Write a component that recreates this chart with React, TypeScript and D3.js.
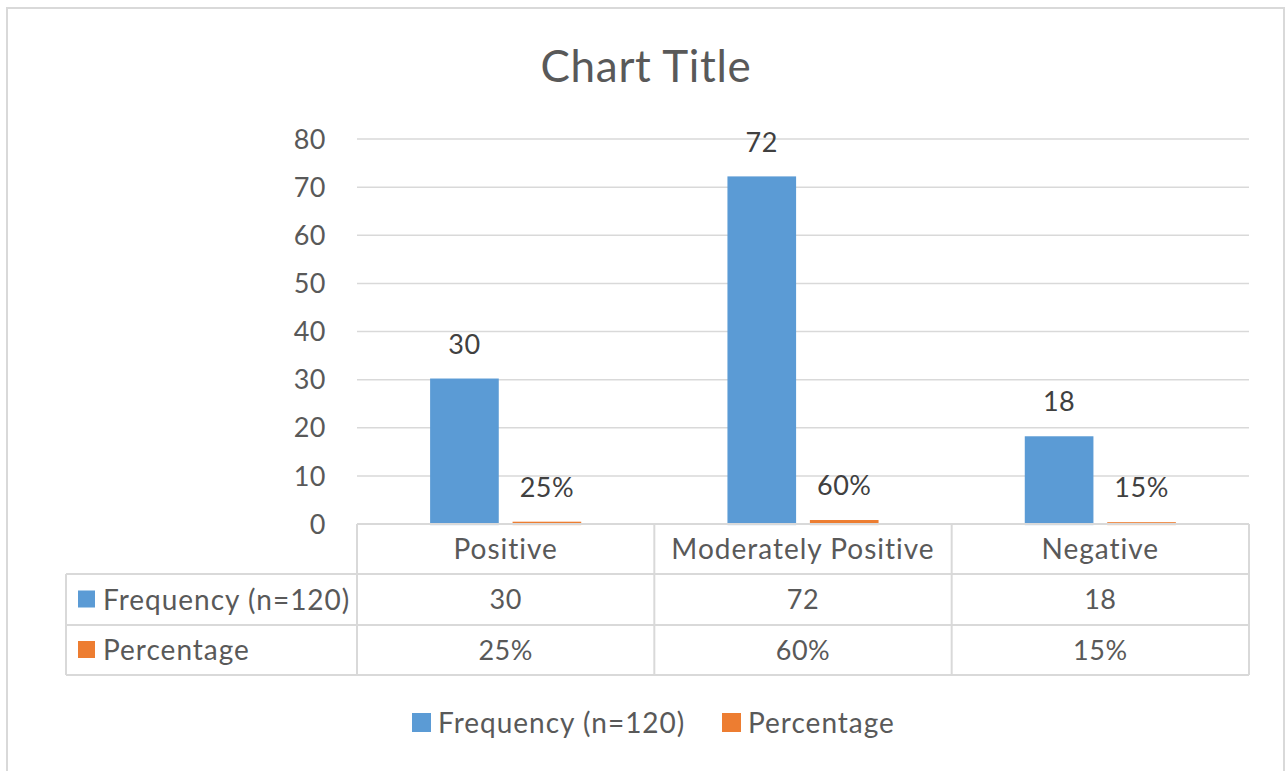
import React from "react";
import * as d3 from "d3";

const categories = ["Positive", "Moderately Positive", "Negative"];
const frequency = [30, 72, 18];
const percentage = [0.25, 0.6, 0.15];
const seriesNames = ["Frequency (n=120)", "Percentage"];
const yTicks = [0, 10, 20, 30, 40, 50, 60, 70, 80];
const colors = ["#5B9BD5", "#ED7D31"];

const W = 1285;
const H = 771;
const FONT = "Lato, 'Open Sans', sans-serif";
const LS = 1.0;

export default function App() {
  const plotLeft = 357;
  const plotRight = 1249;
  const y = d3.scaleLinear().domain([0, 80]).range([524, 139]);
  const x = d3.scaleBand<string>().domain(categories).range([plotLeft, plotRight]).paddingInner(0).paddingOuter(0);
  const xs = d3
    .scaleBand<string>()
    .domain(seriesNames)
    .range([0, x.bandwidth()])
    .paddingInner(0.194)
    .paddingOuter(0.9);

  const seriesData = [frequency, percentage];
  const fmt = [(v: number) => String(v), d3.format(".0%")];

  const tableLeft = 66;
  const rowY = [524, 574, 625, 675];
  const grid = "#D9D9D9";
  const textCol = "#595959";

  return (
    <svg
      width={W}
      height={H}
      style={{ position: "absolute", left: 0, top: 0, background: "#fff" }}
      fontFamily={FONT}
    >
      <rect x={0} y={0} width={W} height={H} fill="#fff" />
      <rect x={7} y={8} width={1277} height={800} fill="#fff" stroke={grid} strokeWidth={2} />

      <text x={646} y={82} textAnchor="middle" fontSize={44} letterSpacing={0.7} fill={textCol}>
        Chart Title
      </text>

      {/* gridlines */}
      {yTicks.map((t) => (
        <g key={t}>
          <line x1={plotLeft} x2={plotRight} y1={y(t)} y2={y(t)} stroke={grid} strokeWidth={1.5} />
          <text x={326} y={y(t)} dy="0.36em" textAnchor="end" fontSize={27} letterSpacing={0.5} fill={textCol}>
            {t}
          </text>
        </g>
      ))}

      {/* bars */}
      {seriesData.map((vals, si) =>
        vals.map((v, ci) => {
          const bx = (x(categories[ci]) ?? 0) + (xs(seriesNames[si]) ?? 0);
          const by = y(v);
          const h = y(0) - by;
          return (
            <g key={`${si}-${ci}`}>
              <rect
                x={bx}
                y={by}
                width={xs.bandwidth()}
                height={h}
                fill={colors[si]}
                stroke={colors[si]}
                strokeWidth={2.2}
              />
              <text
                x={bx + xs.bandwidth() / 2}
                y={by - 26}
                textAnchor="middle"
                fontSize={27}
                letterSpacing={0.5}
                fill="#404040"
              >
                {fmt[si](v)}
              </text>
            </g>
          );
        })
      )}

      {/* data table */}
      <g stroke={grid} strokeWidth={2} fill="none">
        <line x1={plotLeft} x2={plotRight} y1={rowY[0]} y2={rowY[0]} />
        {rowY.slice(1).map((ry) => (
          <line key={ry} x1={tableLeft} x2={plotRight} y1={ry} y2={ry} />
        ))}
        <line x1={tableLeft} x2={tableLeft} y1={rowY[1]} y2={rowY[3]} />
        {categories.map((c) => (
          <line key={c} x1={x(c)} x2={x(c)} y1={rowY[0]} y2={rowY[3]} />
        ))}
        <line x1={plotRight} x2={plotRight} y1={rowY[0]} y2={rowY[3]} />
      </g>
      {categories.map((c) => (
        <text
          key={c}
          x={(x(c) ?? 0) + x.bandwidth() / 2}
          y={(rowY[0] + rowY[1]) / 2}
          dy="0.36em"
          textAnchor="middle"
          fontSize={28}
          letterSpacing={LS}
          fill={textCol}
        >
          {c}
        </text>
      ))}
      {seriesData.map((vals, si) => (
        <g key={si}>
          <rect x={78} y={(rowY[si + 1] + rowY[si + 2]) / 2 - 9} width={17} height={17} fill={colors[si]} />
          <text
            x={103}
            y={(rowY[si + 1] + rowY[si + 2]) / 2}
            dy="0.36em"
            fontSize={28}
            letterSpacing={LS}
            fill={textCol}
          >
            {seriesNames[si]}
          </text>
          {vals.map((v, ci) => (
            <text
              key={ci}
              x={(x(categories[ci]) ?? 0) + x.bandwidth() / 2}
              y={(rowY[si + 1] + rowY[si + 2]) / 2}
              dy="0.36em"
              textAnchor="middle"
              fontSize={27}
              letterSpacing={0.5}
              fill={textCol}
            >
              {fmt[si](v)}
            </text>
          ))}
        </g>
      ))}

      {/* legend */}
      {[412, 722].map((lx, si) => (
        <g key={si}>
          <rect x={lx} y={713} width={19} height={19} fill={colors[si]} />
          <text x={lx + 26} y={723} dy="0.36em" fontSize={28} letterSpacing={LS} fill={textCol}>
            {seriesNames[si]}
          </text>
        </g>
      ))}
    </svg>
  );
}
